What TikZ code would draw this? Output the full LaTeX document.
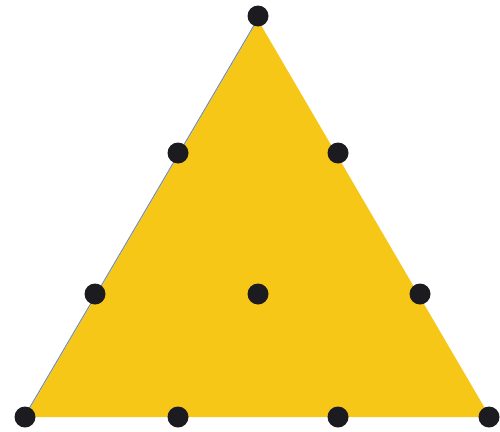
\documentclass[tikz,border=0pt]{standalone}
\definecolor{tri}{RGB}{246,199,22}
\definecolor{dotc}{RGB}{28,28,32}
\definecolor{edgec}{RGB}{120,140,160}
\tikzset{dotnode/.style={circle,fill=dotc,inner sep=0pt,minimum size=21pt}}
\begin{document}
\begin{tikzpicture}[x=1pt,y=-1pt]
\useasboundingbox (0,0) rectangle (500,431);
\coordinate (A) at (258,20);
\coordinate (B) at (25,417);
\coordinate (C) at (490,417);
\fill[tri] (A) -- (B) -- (C) -- cycle;
\draw[edgec,line width=1pt] ([xshift=-0.8pt]A) -- ([xshift=-0.8pt]B);
\node[dotnode] (d1) at (258,16) {};
\node[dotnode] (d2) at (178,153) {};
\node[dotnode] (d3) at (338,153) {};
\node[dotnode] (d4) at (95,294) {};
\node[dotnode] (d5) at (258,294) {};
\node[dotnode] (d6) at (420,294) {};
\node[dotnode] (d7) at (25,417) {};
\node[dotnode] (d8) at (178,417) {};
\node[dotnode] (d9) at (338,417) {};
\node[dotnode] (d10) at (489,417) {};
\end{tikzpicture}
\end{document}
